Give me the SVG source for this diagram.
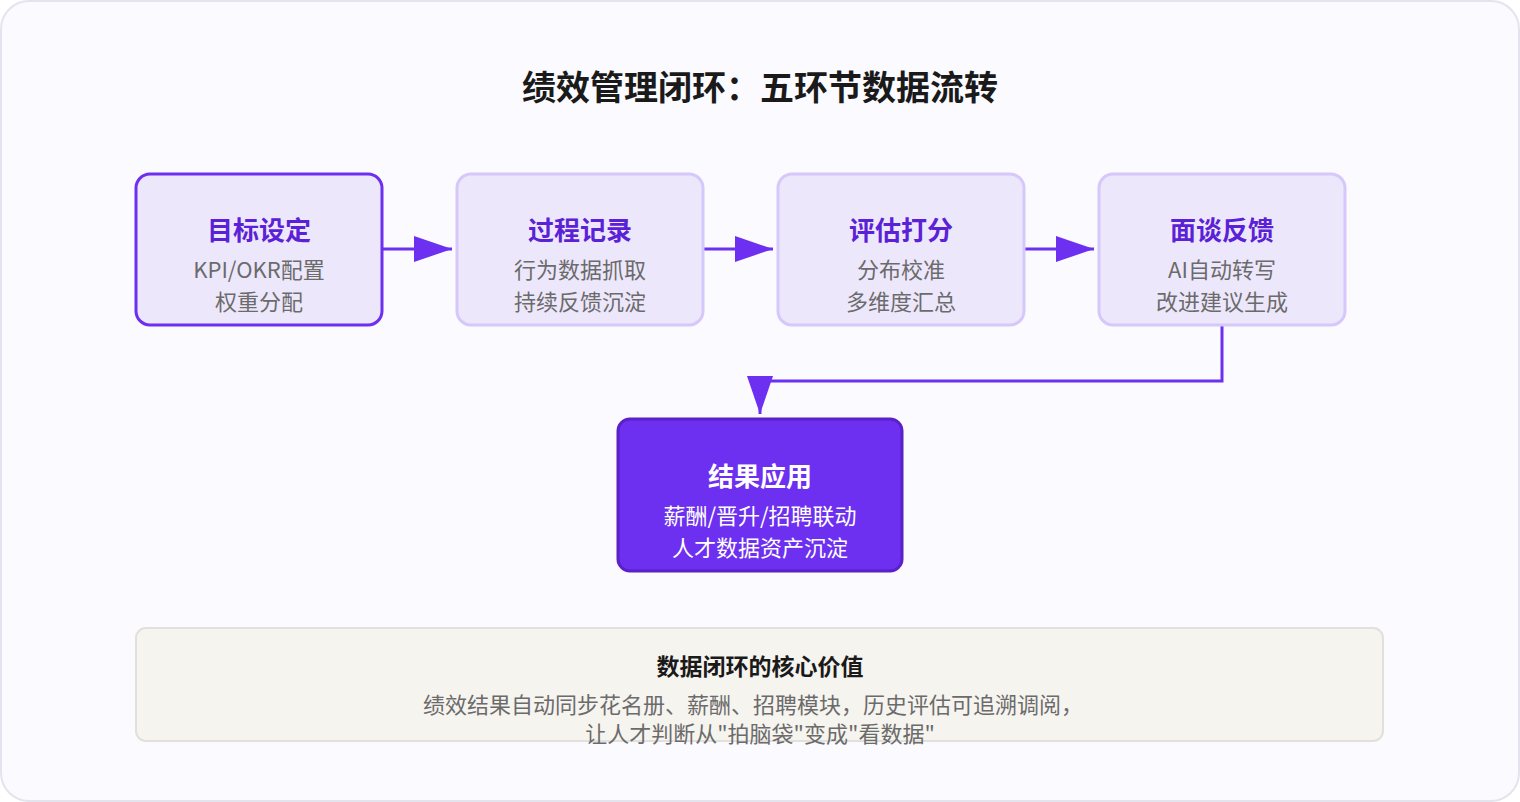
<svg xmlns="http://www.w3.org/2000/svg" width="1520" height="802" viewBox="0 0 1520 802">
<style>
text{font-family:"Noto Sans CJK SC","Noto Sans",sans-serif;text-anchor:middle}
.t{font-size:26px;font-weight:bold;fill:#5b21d6}
.s{font-size:22px;fill:#6b6b6b}
.box{fill:#ede7fc;stroke:#d6c8fa;stroke-width:3}
.c{fill:none;stroke:#6d2ff0;stroke-width:3}
</style>
<defs>
<marker id="ar2" viewBox="0 0 38 26" refX="38" refY="13" markerWidth="38" markerHeight="26" orient="auto" markerUnits="userSpaceOnUse"><path d="M0,0L38,13L0,26z" fill="#6d2ff0"/></marker></defs>
<rect x="1" y="1" width="1518" height="800" rx="28" fill="#fafaff" stroke="#e4e4ee" stroke-width="2"/>
<text x="760" y="100" style="font-size:34px;font-weight:bold;fill:#1a1a1a">绩效管理闭环：五环节数据流转</text>
<g id="connectors">
<path class="c" d="M382,249H452" marker-end="url(#ar2)"/>
<path class="c" d="M703,249H773" marker-end="url(#ar2)"/>
<path class="c" d="M1024,249H1094" marker-end="url(#ar2)"/>
<path class="c" d="M1222,325V381H760V414" marker-end="url(#ar2)"/>
</g>
<g id="n1"><rect class="box" x="136" y="174" width="246" height="151" rx="14" style="stroke:#6d2ff0"/><text class="t" x="259" y="240">目标设定</text><text class="s" x="259" y="278">KPI/OKR配置</text><text class="s" x="259" y="310">权重分配</text></g>
<g id="n2"><rect class="box" x="457" y="174" width="246" height="151" rx="14"/><text class="t" x="580" y="240">过程记录</text><text class="s" x="580" y="278">行为数据抓取</text><text class="s" x="580" y="310">持续反馈沉淀</text></g>
<g id="n3"><rect class="box" x="778" y="174" width="246" height="151" rx="14"/><text class="t" x="901" y="240">评估打分</text><text class="s" x="901" y="278">分布校准</text><text class="s" x="901" y="310">多维度汇总</text></g>
<g id="n4"><rect class="box" x="1099" y="174" width="246" height="151" rx="14"/><text class="t" x="1222" y="240">面谈反馈</text><text class="s" x="1222" y="278">AI自动转写</text><text class="s" x="1222" y="310">改进建议生成</text></g>
<g id="n5"><rect x="618" y="419" width="284" height="152" rx="12" fill="#6d2ff0" stroke="#5b21c6" stroke-width="3"/><text class="t" x="760" y="486" style="fill:#fff">结果应用</text><text class="s" x="760" y="524" style="fill:#fff">薪酬/晋升/招聘联动</text><text class="s" x="760" y="556" style="fill:#fff">人才数据资产沉淀</text></g>
<g id="note"><rect x="136" y="628" width="1247" height="113" rx="10" fill="#f6f4ef" stroke="#e2e0da" stroke-width="2"/><text x="760" y="675" style="font-size:23px;font-weight:bold;fill:#1a1a1a">数据闭环的核心价值</text><text class="s" x="753" y="713">绩效结果自动同步花名册、薪酬、招聘模块，历史评估可追溯调阅，</text><text class="s" x="760" y="742">让人才判断从"拍脑袋"变成"看数据"</text></g>
</svg>
